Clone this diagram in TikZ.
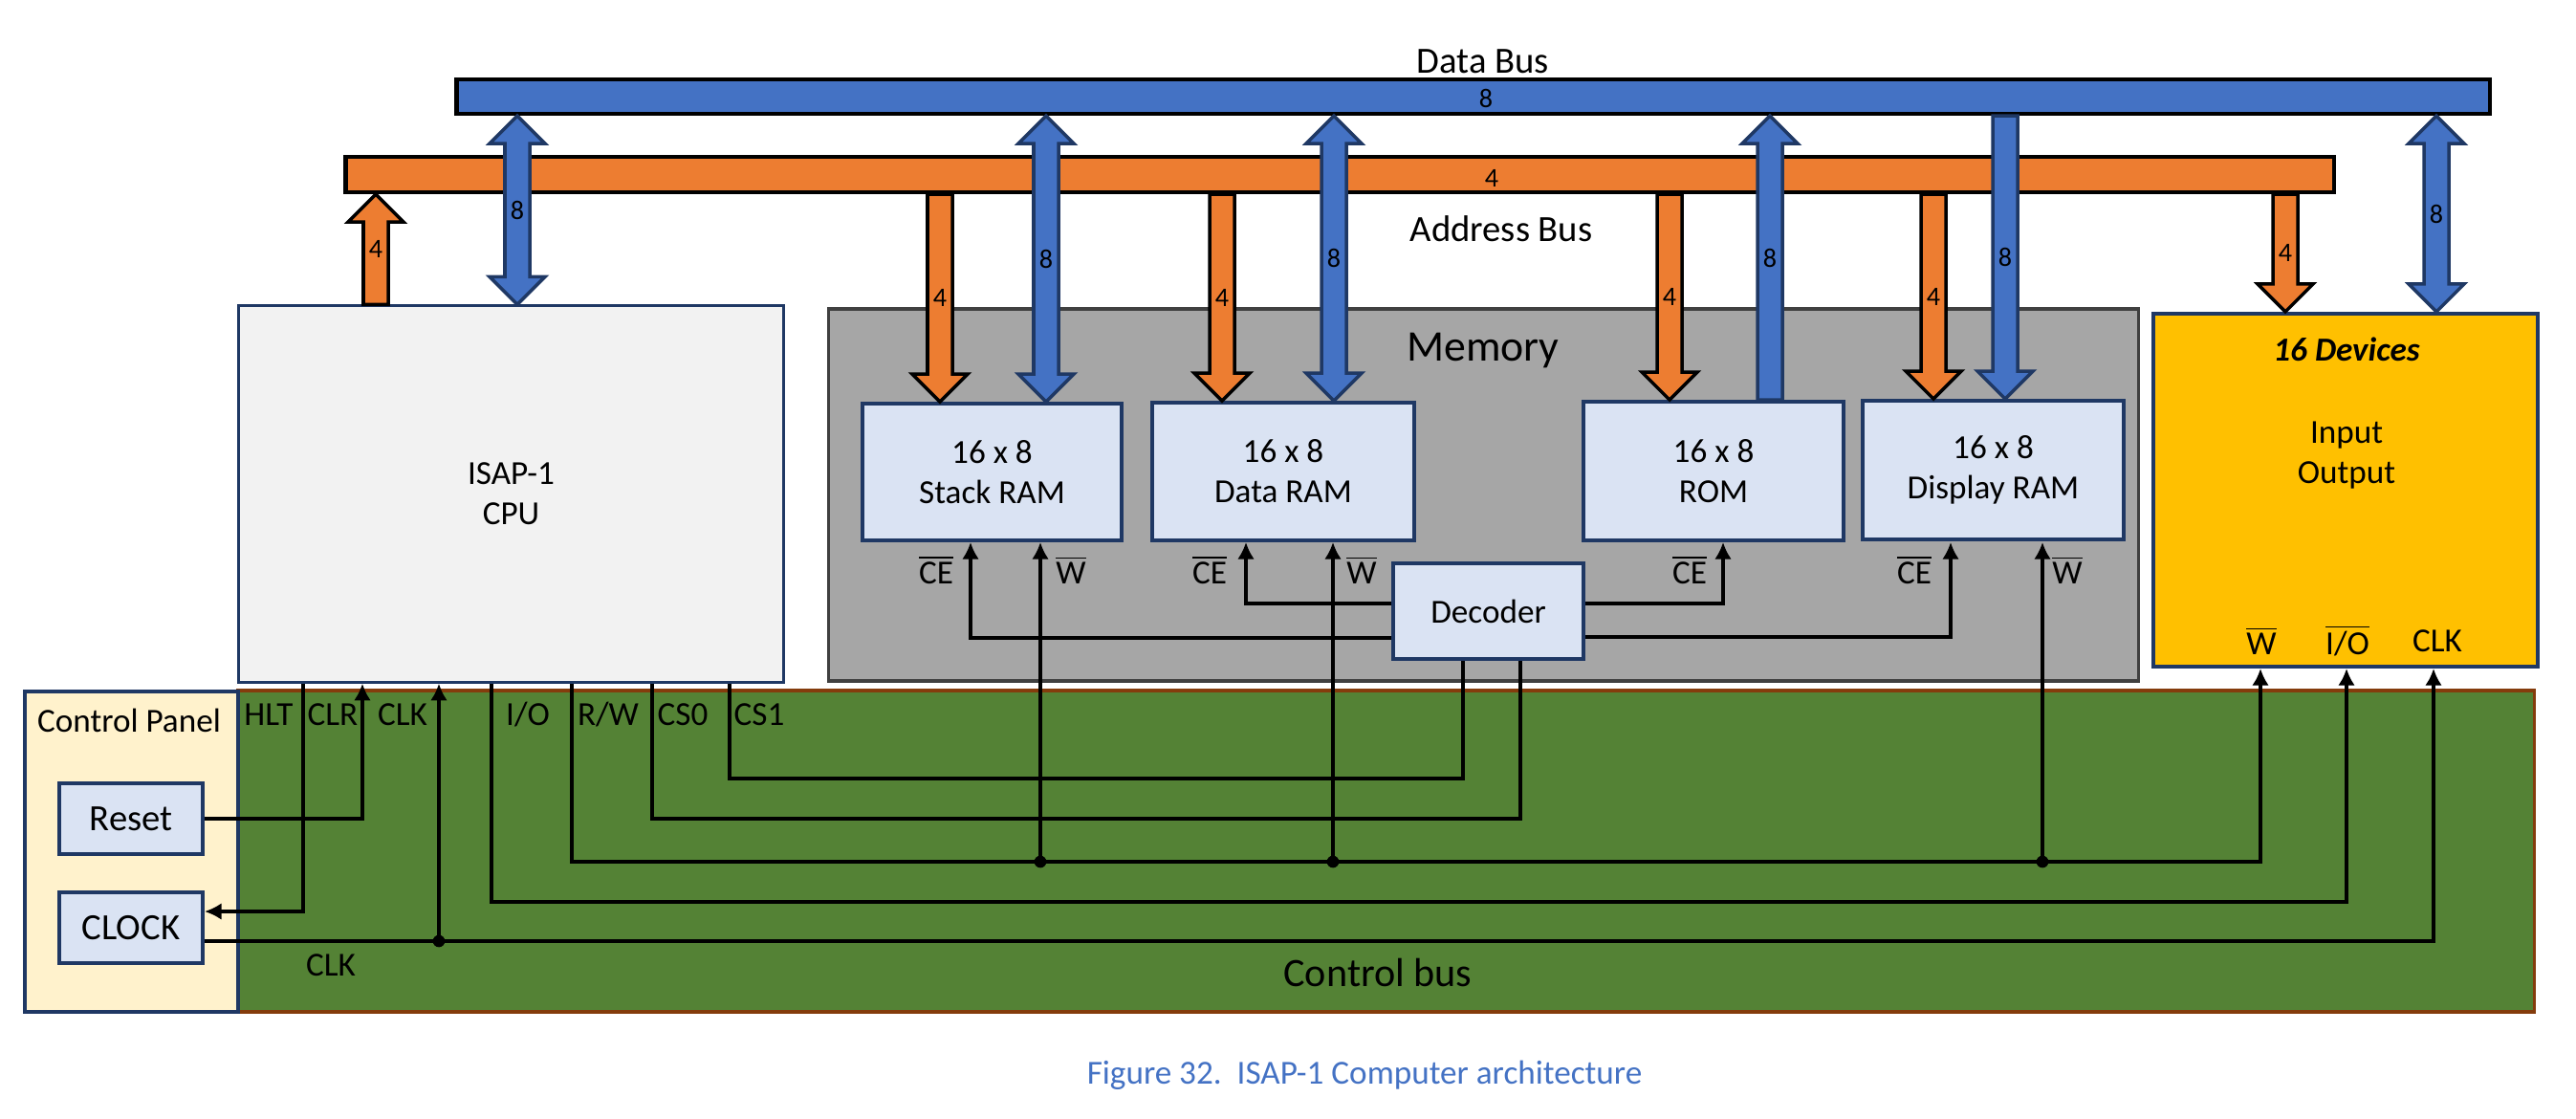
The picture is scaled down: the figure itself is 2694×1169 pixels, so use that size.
\documentclass[tikz,border=0pt]{standalone}
\usepackage{amsmath}
\usepackage{fontspec}
\setmainfont{Carlito}
\usetikzlibrary{arrows.meta,calc}
\definecolor{busblue}{HTML}{4472C4}
\definecolor{busorange}{HTML}{ED7D31}
\definecolor{boxnavy}{HTML}{1F3864}
\definecolor{memgray}{HTML}{A6A6A6}
\definecolor{memedge}{HTML}{404040}
\definecolor{ctrlgreen}{HTML}{548235}
\definecolor{ctrledge}{HTML}{843C0C}
\definecolor{panelcream}{HTML}{FFF2CC}
\definecolor{iogold}{HTML}{FFC000}
\definecolor{cpugray}{HTML}{F2F2F2}
\definecolor{ramblue}{HTML}{DAE3F3}

\newcommand{\ovl}[1]{$\overline{\text{#1}}$}
\def\arsw{0.13cm}\def\arhw{0.29cm}\def\arhl{0.29cm}
% block arrows between a bus and a box
\newcommand{\busboth}[4]{\draw[#1] let \p1=(#2), \p2=(#3) in
  (\x1,\y1) -- (\x1+\arhw,\y1-\arhl) -- (\x1+\arsw,\y1-\arhl) -- (\x1+\arsw,\y2+\arhl) -- (\x1+\arhw,\y2+\arhl)
  -- (\x1,\y2) -- (\x1-\arhw,\y2+\arhl) -- (\x1-\arsw,\y2+\arhl) -- (\x1-\arsw,\y1-\arhl) -- (\x1-\arhw,\y1-\arhl) -- cycle
  (\x1,{(\y1+\y2)/2}) node[buslbl]{#4};}
\newcommand{\busdown}[4]{\draw[#1] let \p1=(#2), \p2=(#3) in
  (\x1-\arsw,\y1) -- (\x1+\arsw,\y1) -- (\x1+\arsw,\y2+\arhl) -- (\x1+\arhw,\y2+\arhl)
  -- (\x1,\y2) -- (\x1-\arhw,\y2+\arhl) -- (\x1-\arsw,\y2+\arhl) -- cycle
  (\x1,{(\y1+\y2)/2}) node[buslbl]{#4};}
\newcommand{\busup}[4]{\draw[#1] let \p1=(#2), \p2=(#3) in
  (\x1,\y1) -- (\x1+\arhw,\y1-\arhl) -- (\x1+\arsw,\y1-\arhl) -- (\x1+\arsw,\y2)
  -- (\x1-\arsw,\y2) -- (\x1-\arsw,\y1-\arhl) -- (\x1-\arhw,\y1-\arhl) -- cycle
  (\x1,{(\y1+\y2)/2}) node[buslbl]{#4};}

\tikzset{
  addrarr/.style={fill=busorange,draw=black,line width=1pt},
  dataarr/.style={fill=busblue,draw=boxnavy,line width=1pt},
  buslbl/.style={font=\fontsize{8}{9}\selectfont},
  block/.style={draw=boxnavy,line width=1.1pt,fill=ramblue,align=center,inner sep=0pt,font=\fontsize{10}{12}\selectfont},
  sig/.style={line width=0.9pt},
  tip/.style={-{Latex[length=5pt,width=5pt]}},
  pin/.style={font=\fontsize{10}{12}\selectfont},
}

\begin{document}
\begin{tikzpicture}[x=0.01cm,y=-0.01cm]
\useasboundingbox (0,0) rectangle (2694,1169);

% memory
\node[draw=memedge,line width=1pt,fill=memgray,minimum width=13.69cm,minimum height=3.89cm,inner sep=0pt] (mem) at (1551.5,517.5) {};
\node[font=\fontsize{13}{15}\selectfont] (memlbl) at (1551,367) {Memory};

% boxes
\node[block,fill=cpugray,line width=0.9pt,minimum width=5.69cm,minimum height=3.93cm] (cpu) at (534.5,516.5) {ISAP-1\\CPU};
\node[block,minimum width=2.71cm,minimum height=1.43cm] (stack) at (1037.5,493.5) {16 x 8\\Stack RAM};
\node[block,minimum width=2.74cm,minimum height=1.44cm] (dram) at (1342,493) {16 x 8\\Data RAM};
\node[block,minimum width=2.72cm,minimum height=1.45cm] (rom) at (1792,492.5) {16 x 8\\ROM};
\node[block,minimum width=2.73cm,minimum height=1.45cm] (disp) at (2084.5,491.5) {16 x 8\\Display RAM};
\node[block,minimum width=1.99cm,minimum height=1.0cm] (dec) at (1556.5,639) {Decoder};
\node[block,fill=iogold,minimum width=4.02cm,minimum height=3.69cm] (io) at (2453,512.5) {};
\node[font=\bfseries\itshape\fontsize{10}{12}\selectfont] (iotitle) at (2454,365) {16 Devices};
\node[pin,align=center] (iotext) at (2454,476) {Input\\Output};

% address bus
\node[draw=black,line width=1.2pt,fill=busorange,minimum width=20.78cm,minimum height=0.37cm,inner sep=0pt] (abus) at (1401,182.5) {};
\node[buslbl] (abusw) at (1560,186) {4};
\node[font=\fontsize{11}{13}\selectfont] (abuslbl) at (1570,239) {Address Bus};
\busup{addrarr}{393,0 |- abus.south}{393,0 |- cpu.north}{4}
\foreach \c/\b in {983/stack,1278/dram,1746/rom,2022/disp,2390/io}
  \busdown{addrarr}{\c,0 |- abus.south}{\c,0 |- \b.north}{4};

% data bus
\node[draw=black,line width=1.2pt,fill=busblue,minimum width=21.25cm,minimum height=0.36cm,inner sep=0pt] (dbus) at (1540.5,101) {};
\node[buslbl] (dbusw) at (1554,103) {8};
\node[font=\fontsize{11}{13}\selectfont] (dbuslbl) at (1551,64) {Data Bus};
\busboth{dataarr}{541,0 |- dbus.south}{541,0 |- cpu.north}{8}
\foreach \c/\b in {1094/stack,1395/dram,2548/io}
  \busboth{dataarr}{\c,0 |- dbus.south}{\c,0 |- \b.north}{8};
\busup{dataarr}{1851,0 |- dbus.south}{1851,0 |- rom.north}{8}
\busdown{dataarr}{2097,0 |- dbus.south}{2097,0 |- disp.north}{8}

% control bus and panel
\node[draw=ctrledge,line width=1pt,fill=ctrlgreen,minimum width=24.01cm,minimum height=3.36cm,inner sep=0pt] (cbus) at (1449.5,890) {};
\node[font=\fontsize{12}{14}\selectfont] (cbuslbl) at (1441,1017) {Control bus};
\node[draw=boxnavy,line width=1pt,fill=panelcream,minimum width=2.23cm,minimum height=3.35cm,inner sep=0pt] (panel) at (137.5,890.5) {};
\node[pin] (panellbl) at (135,753) {Control Panel};
\node[block,font=\fontsize{11}{13}\selectfont,minimum width=1.5cm,minimum height=0.74cm] (reset) at (137,856) {Reset};
\node[block,font=\fontsize{11}{13}\selectfont,minimum width=1.5cm,minimum height=0.74cm] (clock) at (137,970) {CLOCK};

% pins
\foreach \n/\c in {hlt/317,clr/379,clk/459,iop/514,rw/598,cs0/682,cs1/763}
  \coordinate (\n) at (\c,0 |- cpu.south);
\foreach \t/\c in {HLT/281,CLR/348,CLK/421,{I/O}/552,{R/W}/636,CS0/714,CS1/794}
  \node[pin] (l\c) at (\c,747) {\t};
\foreach \n/\c in {stce/1015,stw/1088,drce/1303,drw/1394,romce/1802,dice/2040,diw/2136}
  \coordinate (\n) at (\c,0 |- stack.south);
\foreach \n/\c in {iow/2364,ioio/2454,ioclk/2545}
  \coordinate (\n) at (\c,0 |- io.south);
\foreach \c in {979,1265,1767,2002}
  \node[pin] (ce\c) at (\c,596) {\ovl{CE}};
\foreach \c in {1120,1424,2162}
  \node[pin] (w\c) at (\c,596) {\ovl{W}};
\node[pin] (iowlbl) at (2365,670) {\ovl{W}};
\node[pin] (ioiolbl) at (2455,670) {\ovl{I/O}};
\node[pin] (ioclklbl) at (2549,670) {CLK};
\node[pin] (clklbl) at (346,1009) {CLK};

% control lines
\draw[sig,tip] (hlt) |- ($(clock.east)+(0,-17)$);
\draw[sig,tip] (reset.east) -| (clr);
\coordinate (clkj) at (clk |- 0,984);
\draw[sig,tip] (clock.east |- clkj) -| (ioclk);
\draw[sig,tip] (clkj) -- (clk);
\fill (clkj) circle (1.8pt);
\draw[sig,tip] (iop) -- (iop |- 0,943) -| (ioio);
\coordinate (rwline) at (rw |- 0,901);
\draw[sig,tip] (rw) -- (rwline) -| (iow);
\foreach \q in {stw,drw,diw}{
  \draw[sig,tip] (\q |- rwline) -- (\q);
  \fill (\q |- rwline) circle (1.8pt);
}
\draw[sig] (cs0) -- (cs0 |- 0,856) -| (dec.south -| 1590,0);
\draw[sig] (cs1) -- (cs1 |- 0,814) -| (dec.south -| 1530,0);
\draw[sig,tip] (dec.west |- 0,631) -| (drce);
\draw[sig,tip] (dec.west |- 0,667) -| (stce);
\draw[sig,tip] (dec.east |- 0,631) -| (romce);
\draw[sig,tip] (dec.east |- 0,666) -| (dice);

% caption
\node[text=busblue,font=\fontsize{10}{12}\selectfont] (caption) at (1427,1124) {Figure 32.\ \ ISAP-1 Computer architecture};
\end{tikzpicture}
\end{document}
